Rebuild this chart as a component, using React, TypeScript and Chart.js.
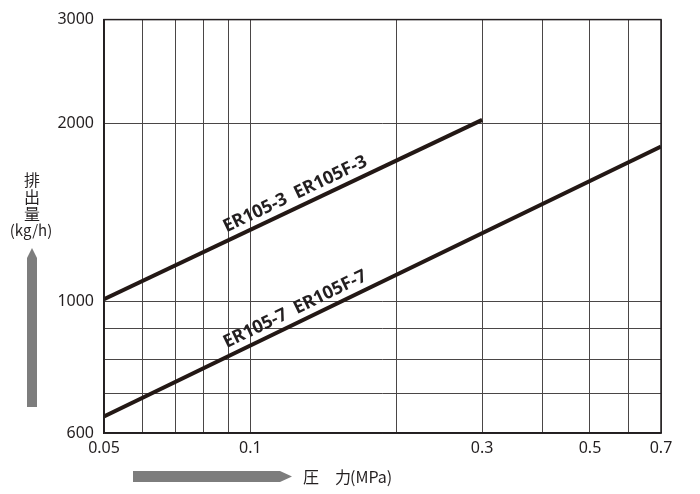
import { useEffect, useRef } from "react";
import { Chart, registerables } from "chart.js";
Chart.register(...registerables);

const pressure3 = [0.05, 0.3];
const flow3 = [1010, 2030];
const pressure7 = [0.05, 0.7];
const flow7 = [640, 1830];
const seriesLabels = ["ER105-3  ER105F-3", "ER105-7  ER105F-7"];
const labelAtPressure = [0.127, 0.127];
const xGridTicks = [0.05, 0.06, 0.07, 0.08, 0.09, 0.1, 0.2, 0.3, 0.4, 0.5, 0.6, 0.7];
const xLabeledTicks = [0.05, 0.1, 0.3, 0.5, 0.7];
const yGridTicks = [600, 700, 800, 900, 1000, 2000, 3000];
const yLabeledTicks = [600, 1000, 2000, 3000];
const yTitleChars = ["排", "出", "量"];
const yTitleUnit = "(kg/h)";
const xTitle = "圧　力";
const xTitleUnit = "(MPa)";

const INK = "#231f20";
const GRID = "#4a4646";
const ARROW = "#7d7d7d";

const lineLabelPlugin = {
  id: "lineLabels",
  afterDatasetsDraw(chart: any) {
    const ctx = chart.ctx;
    const xs = chart.scales.x;
    chart.data.datasets.forEach((_: any, i: number) => {
      const meta = chart.getDatasetMeta(i);
      const p0 = meta.data[0];
      const p1 = meta.data[meta.data.length - 1];
      const ang = Math.atan2(p1.y - p0.y, p1.x - p0.x);
      const px = xs.getPixelForValue(labelAtPressure[i]);
      const t = (px - p0.x) / (p1.x - p0.x);
      const py = p0.y + t * (p1.y - p0.y);
      ctx.save();
      ctx.translate(px, py);
      ctx.rotate(ang);
      ctx.font = "bold 18px 'Noto Sans'";
      ctx.fillStyle = INK;
      ctx.textAlign = "center";
      ctx.textBaseline = "middle";
      ctx.fillText(seriesLabels[i], 0, -13);
      ctx.restore();
    });
  },
};

const decorPlugin = {
  id: "decor",
  afterDraw(chart: any) {
    const ctx = chart.ctx;
    const a = chart.chartArea;
    ctx.save();
    ctx.strokeStyle = INK;
    ctx.lineWidth = 1.5;
    ctx.strokeRect(a.left, a.top, a.right - a.left, a.bottom - a.top);

    // y title
    ctx.fillStyle = INK;
    ctx.textAlign = "center";
    ctx.textBaseline = "middle";
    ctx.font = "16px 'Noto Sans CJK JP'";
    yTitleChars.forEach((c, i) => ctx.fillText(c, 32, 180 + i * 17));
    ctx.font = "15px 'Noto Sans CJK JP'";
    ctx.fillText(yTitleUnit, 31, 230);

    // up arrow
    ctx.fillStyle = ARROW;
    ctx.beginPath();
    ctx.moveTo(27, 407);
    ctx.lineTo(27, 258);
    ctx.lineTo(32, 248);
    ctx.lineTo(37, 258);
    ctx.lineTo(37, 407);
    ctx.closePath();
    ctx.fill();

    // right arrow
    ctx.beginPath();
    ctx.moveTo(133, 471);
    ctx.lineTo(280, 471);
    ctx.lineTo(292, 476.5);
    ctx.lineTo(280, 482);
    ctx.lineTo(133, 482);
    ctx.closePath();
    ctx.fill();

    // x title
    ctx.fillStyle = INK;
    ctx.textAlign = "left";
    ctx.font = "16px 'Noto Sans CJK JP'";
    ctx.fillText(xTitle, 303, 477);
    ctx.fillText(xTitleUnit, 350, 477);
    ctx.restore();
  },
};

export default function App() {
  const ref = useRef<HTMLCanvasElement>(null);
  useEffect(() => {
    if (!ref.current) return;
    const chart = new Chart(ref.current, {
      type: "line",
      data: {
        datasets: [
          {
            data: pressure3.map((p, i) => ({ x: p, y: flow3[i] })),
            borderColor: "#231815",
            borderWidth: 4,
            pointRadius: 0,
          },
          {
            data: pressure7.map((p, i) => ({ x: p, y: flow7[i] })),
            borderColor: "#231815",
            borderWidth: 4,
            pointRadius: 0,
          },
        ],
      },
      options: {
        animation: false,
        responsive: true,
        maintainAspectRatio: false,
        layout: { padding: { top: 16, right: 39, left: 0, bottom: 0 } },
        plugins: { legend: { display: false }, tooltip: { enabled: false } },
        scales: {
          x: {
            type: "logarithmic",
            min: 0.05,
            max: 0.7,
            afterBuildTicks: (s: any) => {
              s.ticks = xGridTicks.map((v) => ({ value: v }));
            },
            afterFit: (s: any) => {
              s.height = 61;
            },
            ticks: {
              autoSkip: false,
              maxRotation: 0,
              minRotation: 0,
              padding: 6,
              color: INK,
              font: { family: "'Noto Sans'", size: 16 },
              callback: (v: any) => (xLabeledTicks.includes(Number(v)) ? String(v) : ""),
            },
            grid: { color: GRID, lineWidth: 1, drawTicks: false },
            border: { color: INK, width: 1.5 },
          },
          y: {
            type: "logarithmic",
            min: 600,
            max: 3000,
            afterBuildTicks: (s: any) => {
              s.ticks = yGridTicks.map((v) => ({ value: v }));
            },
            afterFit: (s: any) => {
              s.width = 104;
            },
            ticks: {
              autoSkip: false,
              padding: 10,
              color: INK,
              font: { family: "'Noto Sans'", size: 16 },
              callback: (v: any) => (yLabeledTicks.includes(Number(v)) ? String(v) : ""),
            },
            grid: { color: GRID, lineWidth: 1, drawTicks: false },
            border: { color: INK, width: 1.5 },
          },
        },
      },
      plugins: [lineLabelPlugin, decorPlugin],
    } as any);
    return () => chart.destroy();
  }, []);
  return (
    <div style={{ position: "absolute", left: 0, top: 0, width: 700, height: 494 }}>
      <canvas ref={ref} />
    </div>
  );
}
